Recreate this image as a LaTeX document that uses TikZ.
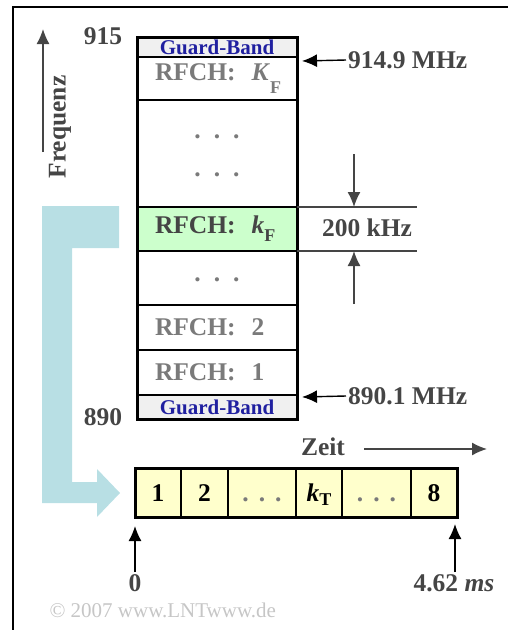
\documentclass[tikz,border=0pt]{standalone}
\usepackage{fontspec}
\setmainfont{Liberation Serif}
\usetikzlibrary{arrows.meta,positioning}
\definecolor{FreqGreen}{HTML}{CCFFCC}
\definecolor{SlotYellow}{HTML}{FFFFCC}
\definecolor{GuardBlue}{HTML}{2020A0}
\definecolor{ShiftBlue}{HTML}{B8DFE4}
\definecolor{LabelGray}{HTML}{454545}
\definecolor{ChanGray}{HTML}{7A7A7A}
\newcommand{\bigfont}{\fontsize{25.5}{28}\selectfont\bfseries}
\newcommand{\idx}[2][6pt]{\raisebox{-#1}{\fontsize{18}{18}\selectfont\upshape #2}}

\begin{document}
\begin{tikzpicture}[
  x=1pt, y=-1pt,
  row/.style={draw, line width=1.5pt, inner sep=0pt, outer sep=0pt, minimum width=160pt, font=\bigfont, text=ChanGray},
  guard/.style={row, fill=gray!12, font=\fontsize{21}{21}\selectfont\bfseries, text=GuardBlue},
  slot/.style={draw, line width=1.5pt, fill=SlotYellow, inner sep=0pt, outer sep=0pt, minimum height=49pt, text height=17pt, text depth=0pt, font=\bigfont},
  lbl/.style={font=\bigfont, text=LabelGray, inner sep=2pt},
  dotrow/.style={font=\bigfont, text=ChanGray, inner sep=0pt},
  arrow/.style={-{Latex[length=15pt,width=13pt]}, line width=1.4pt, draw=LabelGray},
  blackarrow/.style={arrow, draw=black},
  tick/.style={line width=1.2pt, draw=LabelGray}
]
\useasboundingbox (0,0) rectangle (508,630);
\draw[line width=2pt] (13,630) |- (508,7);

% frequency channels
\node[guard, minimum height=20pt] (gtop) at (217,47) {Guard-Band};
\node[row, minimum height=43pt, below=0pt of gtop] (chK) {\makebox[124pt][l]{RFCH:\hspace{16pt}\textit{K}\idx[13pt]{F}}};
\node[row, minimum height=107pt, below=0pt of chK] (gap1) {};
\node[row, minimum height=44pt, fill=FreqGreen, text=LabelGray, below=0pt of gap1] (chk) {\makebox[124pt][l]{RFCH:\hspace{16pt}\textit{k}\idx[8pt]{F}}};
\node[row, minimum height=54pt, below=0pt of chk] (gap2) {};
\node[row, minimum height=45pt, below=0pt of gap2] (ch2) {\makebox[124pt][l]{RFCH:\hspace{16pt}2}};
\node[row, minimum height=45pt, below=0pt of ch2] (ch1) {\makebox[124pt][l]{RFCH:\hspace{16pt}1}};
\node[guard, minimum height=24pt, below=0pt of ch1] (gbot) {Guard-Band};
\draw[line width=3pt] (gtop.north west) rectangle (gbot.south east);

\node[dotrow] (dotsA) at (217,137) {.\hspace{13pt}.\hspace{13pt}.};
\node[dotrow] (dotsB) at (217,175) {.\hspace{13pt}.\hspace{13pt}.};
\node[dotrow] (dotsC) at (217,280) {.\hspace{13pt}.\hspace{13pt}.};

\node[lbl] (top) at (103,36) {915};
\node[lbl] (bot) at (103,417) {890};
\node[lbl, rotate=90] (freq) at (60,127) {Frequenz};
\coordinate (faxisA) at (43,152);
\coordinate (faxisB) at (43,29);
\draw[arrow] (faxisA) -- (faxisB);

\node[lbl, anchor=west] (fmax) at (346,60) {914.9 MHz};
\node[lbl, anchor=west] (fmin) at (346,396) {890.1 MHz};
\coordinate (fmaxtip) at (302,61);
\coordinate (fmintip) at (302,397);
\draw[blackarrow] (fmax.west) -- (fmaxtip);
\draw[blackarrow] (fmin.west) -- (fmintip);

% channel spacing
\node[lbl] (spacing) at (367,228) {200 kHz};
\coordinate (spA) at (417,207);
\coordinate (spB) at (417,251);
\draw[tick] (chk.north east) -- (spA);
\draw[tick] (chk.south east) -- (spB);
\coordinate (downA) at (354,154);
\coordinate (downB) at (354,207);
\coordinate (upA) at (354,304);
\coordinate (upB) at (354,251);
\draw[arrow] (downA) -- (downB);
\draw[arrow] (upA) -- (upB);

% turn to time axis
\fill[ShiftBlue] (42,206) -- (119,206) -- (119,248) -- (72,248) -- (72,482) -- (97,482)
  -- (97,469) -- (120,493) -- (97,517) -- (97,503) -- (42,503) -- cycle;

% time slots
\node[slot, minimum width=46pt] (s1) at (158,492.5) {1};
\node[slot, minimum width=47pt, right=0pt of s1] (s2) {2};
\node[slot, minimum width=68pt, text=ChanGray, right=0pt of s2] (s3) {.\hspace{10pt}.\hspace{10pt}.\hspace{14pt}};
\node[slot, minimum width=46pt, right=0pt of s3] (s4) {\textit{k}\idx[4pt]{T}};
\node[slot, minimum width=69pt, text=ChanGray, right=0pt of s4] (s5) {.\hspace{10pt}.\hspace{10pt}.};
\node[slot, minimum width=46pt, right=0pt of s5] (s6) {8};
\draw[line width=3pt] (s1.north west) rectangle (s6.south east);

\node[lbl] (zeit) at (323,447) {Zeit};
\coordinate (zeitA) at (364,449);
\coordinate (zeitB) at (487,449);
\draw[arrow] (zeitA) -- (zeitB);

\node[lbl] (tzero) at (135,583) {0};
\node[lbl] (tend) at (454,583) {4.62 \textit{ms}};
\coordinate (tzerotip) at (135,526);
\coordinate (tendtip) at (455,524);
\draw[blackarrow] (tzero.north) -- (tzerotip);
\draw[blackarrow] ([xshift=1pt]tend.north) -- (tendtip);

\node[anchor=west, text=gray!45, font=\fontsize{21}{22}\selectfont] (copy) at (46,610) {© 2007 www.LNTwww.de};
\end{tikzpicture}
\end{document}
